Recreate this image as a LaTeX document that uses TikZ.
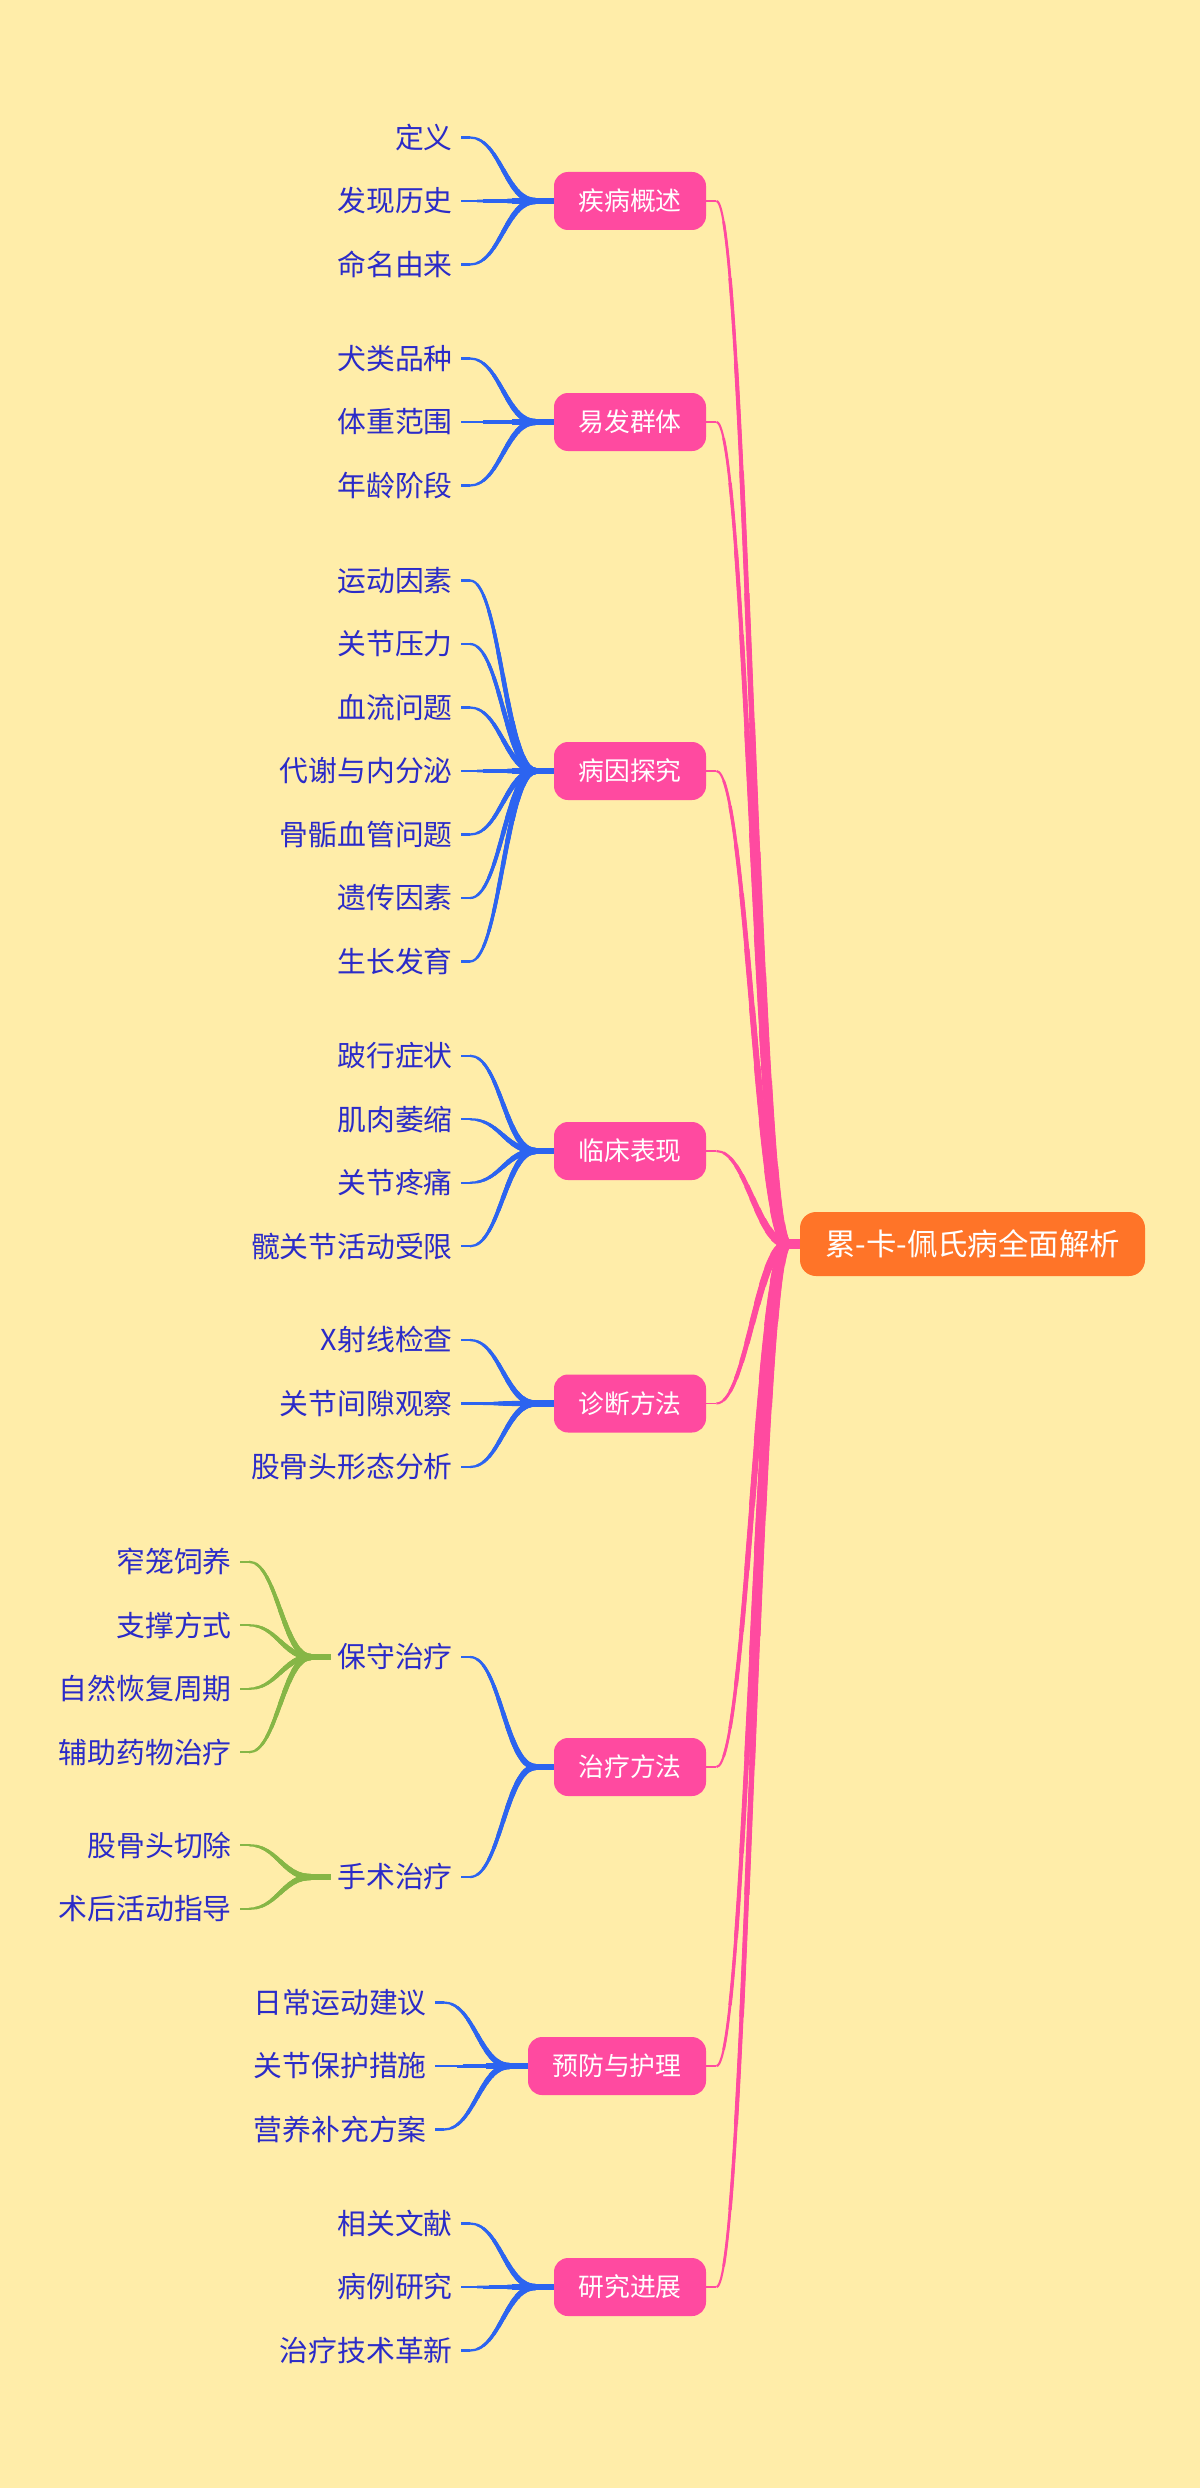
\documentclass[tikz,border=0pt]{standalone}
\usepackage{fontspec}
\setmainfont{Noto Sans CJK SC}
\usetikzlibrary{calc}
\definecolor{bgc}{HTML}{FFEDA9}
\definecolor{pinkc}{HTML}{FF4AA0}
\definecolor{orangec}{HTML}{FF7428}
\definecolor{bluec}{HTML}{2C64F0}
\definecolor{leafc}{HTML}{2B2BC8}
\definecolor{greenc}{HTML}{86B646}
\tikzset{
  rootbox/.style={fill=orangec, rounded corners=8pt, minimum width=172.5pt, minimum height=32pt, inner sep=0pt, text=white, font=\fontsize{15.2pt}{15.2pt}\selectfont, text height=13.4pt, text depth=1.8pt},
  catbox/.style={fill=pinkc, rounded corners=7pt, minimum width=76pt, minimum height=29pt, inner sep=0pt, text=white, font=\fontsize{12.9pt}{12.9pt}\selectfont, text height=11.35pt, text depth=1.55pt},
  leaf/.style={anchor=east, inner sep=0pt, text=leafc, font=\fontsize{14.4pt}{14.4pt}\selectfont, text height=12.67pt, text depth=1.73pt},
}
% #1 start, #2 lead length, #3 control distance, #4 junction, #5 end, #6 w0, #7 w1, #8 colour
\newcommand\taperconn[8]{%
  \coordinate (tA) at #1;
  \coordinate (tP0) at ($(tA)+(#2,0)$);
  \coordinate (tP1) at ($(tP0)+(#3,0)$);
  \coordinate (tP3) at #4;
  \coordinate (tP2) at ($(tP3)+(-#3,0)$);
  \coordinate (tE) at #5;
  \draw[#8, line width=#6*0.5pt] (tA) -- (tP0);
  \draw[#8, line width=#7*0.5pt] (tP3) -- (tE);
  \foreach \i in {0,...,11}{%
    \pgfmathsetmacro\tq{\i/12}%
    \pgfmathsetmacro\tw{(#6+(#7-#6)*(\i+0.5)/12)*0.5}%
    \coordinate (tQa) at ($(tP0)!\tq!(tP1)$);
    \coordinate (tQb) at ($(tP1)!\tq!(tP2)$);
    \coordinate (tQc) at ($(tP2)!\tq!(tP3)$);
    \coordinate (tRa) at ($(tQa)!\tq!(tQb)$);
    \coordinate (tRb) at ($(tQb)!\tq!(tQc)$);
    \coordinate (tS) at ($(tRa)!\tq!(tRb)$);
    \draw[#8, line width=\tw pt] (tS) .. controls (tRb) and (tQc) .. (tP3);
  }%
}
\begin{document}
\begin{tikzpicture}[x=0.5pt,y=-0.5pt]
\fill[bgc] (0,0) rectangle (1200,2488);
\useasboundingbox (0,0) rectangle (1200,2488);
% root
\node[rootbox] (root) at (972.5,1244) {累-卡-佩氏病全面解析};
% categories
\node[catbox] (c1) at (630,201) {疾病概述};
\node[catbox] (c2) at (630,422) {易发群体};
\node[catbox] (c3) at (630,771) {病因探究};
\node[catbox] (c4) at (630,1151) {临床表现};
\node[catbox] (c5) at (630,1403.5) {诊断方法};
\node[catbox] (c6) at (630,1767) {治疗方法};
\node[catbox, minimum width=89pt] (c7) at (617,2066) {预防与护理};
\node[catbox] (c8) at (630,2287) {研究进展};
% leaves
\node[leaf] (a1) at (453,137.5) {定义};
\node[leaf] (a2) at (453,201) {发现历史};
\node[leaf] (a3) at (453,264.5) {命名由来};
\node[leaf] (b1) at (453,358.5) {犬类品种};
\node[leaf] (b2) at (453,422) {体重范围};
\node[leaf] (b3) at (453,485.5) {年龄阶段};
\node[leaf] (d1) at (453,580.5) {运动因素};
\node[leaf] (d2) at (453,644) {关节压力};
\node[leaf] (d3) at (453,707.5) {血流问题};
\node[leaf] (d4) at (453,771) {代谢与内分泌};
\node[leaf] (d5) at (453,834.5) {骨骺血管问题};
\node[leaf] (d6) at (453,898) {遗传因素};
\node[leaf] (d7) at (453,961.5) {生长发育};
\node[leaf] (e1) at (453,1055.75) {跛行症状};
\node[leaf] (e2) at (453,1119.25) {肌肉萎缩};
\node[leaf] (e3) at (453,1182.75) {关节疼痛};
\node[leaf] (e4) at (453,1246.25) {髋关节活动受限};
\node[leaf] (f1) at (453,1340) {X射线检查};
\node[leaf] (f2) at (453,1403.5) {关节间隙观察};
\node[leaf] (f3) at (453,1467) {股骨头形态分析};
\node[leaf] (s1) at (453,1657) {保守治疗};
\node[leaf] (s2) at (453,1877) {手术治疗};
\node[leaf] (g1) at (232,1561.75) {窄笼饲养};
\node[leaf] (g2) at (232,1625.25) {支撑方式};
\node[leaf] (g3) at (232,1688.75) {自然恢复周期};
\node[leaf] (g4) at (232,1752.25) {辅助药物治疗};
\node[leaf] (h1) at (232,1845.25) {股骨头切除};
\node[leaf] (h2) at (232,1908.75) {术后活动指导};
\node[leaf] (p1) at (427,2002.5) {日常运动建议};
\node[leaf] (p2) at (427,2066) {关节保护措施};
\node[leaf] (p3) at (427,2129.5) {营养补充方案};
\node[leaf] (r1) at (453,2223.5) {相关文献};
\node[leaf] (r2) at (453,2287) {病例研究};
\node[leaf] (r3) at (453,2350.5) {治疗技术革新};
% trunk connectors
\foreach \pa in {c1,c2,c3,c4,c5,c6,c7,c8}{
  \taperconn{(\pa.east)}{10}{30}{($(root.west)+(-12,0)$)}{(root.west)}{1.8}{9.5}{pinkc}
}
% blue connectors
\foreach \pa/\ch in {c1/a1,c1/a2,c1/a3,c2/b1,c2/b2,c2/b3,c3/d1,c3/d2,c3/d3,c3/d4,c3/d5,c3/d6,c3/d7,c4/e1,c4/e2,c4/e3,c4/e4,c5/f1,c5/f2,c5/f3,c6/s1,c6/s2,c7/p1,c7/p2,c7/p3,c8/r1,c8/r2,c8/r3}{
  \taperconn{($(\ch.east)+(8,0)$)}{9}{30}{($(\pa.west)+(-18,0)$)}{(\pa.west)}{2.1}{6.5}{bluec}
}
% green connectors
\foreach \pa/\ch in {s1/g1,s1/g2,s1/g3,s1/g4,s2/h1,s2/h2}{
  \taperconn{($(\ch.east)+(8,0)$)}{9}{28}{($(\pa.west)+(-26,0)$)}{($(\pa.west)+(-6,0)$)}{2.1}{6.5}{greenc}
}
\end{tikzpicture}
\end{document}
